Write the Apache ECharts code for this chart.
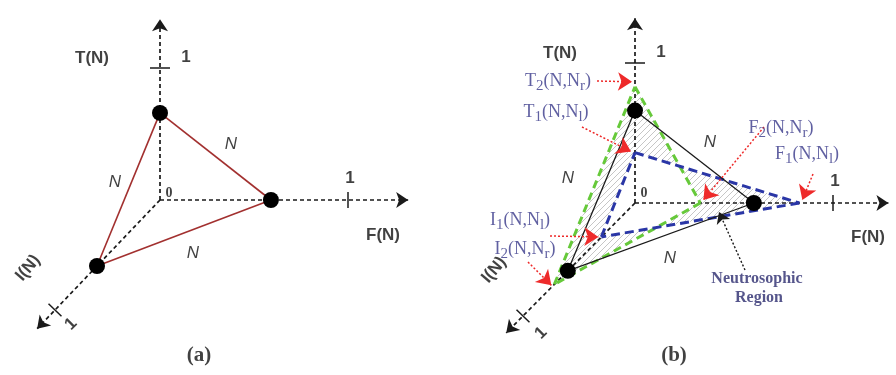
<!DOCTYPE html>
<html><head><meta charset="utf-8">
<script src="https://cdn.jsdelivr.net/npm/echarts@6/dist/echarts.min.js"></script>
<style>html,body{margin:0;padding:0;background:#fff}#c{width:896px;height:375px}</style>
</head><body><div id="c"></div>
<script>
// ================= DATA =================
const axisTitles = ['T(N)', 'F(N)', 'I(N)'];
const tickLabels = ['0', '1'];
const tickValue = 1;
const pointA = [0.66, 0.59, 0.60];   // [T, F, I] of N, panel (a)
const pointB = [0.66, 0.60, 0.60];   // [T, F, I] of N, panel (b)
const lowerB = [0.36, 0.83, 0.30];   // T1, F1, I1 : (N, N_l)
const upperB = [0.83, 0.33, 0.72];   // T2, F2, I2 : (N, N_r)
const edgeLabel = 'N';
const lowerNames = [['T', '1', 'l'], ['F', '1', 'l'], ['I', '1', 'l']];
const upperNames = [['T', '2', 'r'], ['F', '2', 'r'], ['I', '2', 'r']];
const regionLabel = ['Neutrosophic', 'Region'];
const captions = ['(a)', '(b)'];

// ================= LAYOUT =================
const panels = [
  {O: [160, 200], uT: [0, -132], uF: [188, 0], uI: [-105, 110], ext: [1.37, 1.32, 1.17]},
  {O: [635, 203], uT: [0, -140], uF: [198, 0], uI: [-112, 113], ext: [1.32, 1.28, 1.15]}
];
function proj(p, t, f, i) {
  return [p.O[0] + t * p.uT[0] + f * p.uF[0] + i * p.uI[0],
          p.O[1] + t * p.uT[1] + f * p.uF[1] + i * p.uI[1]];
}
const vT = (p, v) => proj(p, v, 0, 0);
const vF = (p, v) => proj(p, 0, v, 0);
const vI = (p, v) => proj(p, 0, 0, v);
const add = (a, b, s) => [a[0] + s * b[0], a[1] + s * b[1]];
const pa = panels[0], pb = panels[1];

const axisLines = [], tickLines = [];
panels.forEach(p => {
  axisLines.push([p.O, vT(p, p.ext[0])], [p.O, vF(p, p.ext[1])], [p.O, vI(p, p.ext[2])]);
  tickLines.push([add(vT(p, tickValue), [1, 0], -10), add(vT(p, tickValue), [1, 0], 10)]);
  tickLines.push([add(vF(p, tickValue), [0, 1], -8), add(vF(p, tickValue), [0, 1], 8)]);
  tickLines.push([add(vI(p, tickValue), [0.72, 0.69], -9), add(vI(p, tickValue), [0.72, 0.69], 9)]);
});
const triA = [vT(pa, pointA[0]), vF(pa, pointA[1]), vI(pa, pointA[2])];
const triB = [vT(pb, pointB[0]), vF(pb, pointB[1]), vI(pb, pointB[2])];
const triLow = [vT(pb, lowerB[0]), vF(pb, lowerB[1]), vI(pb, lowerB[2])];
const triUp = [vT(pb, upperB[0]), vF(pb, upperB[1]), vI(pb, upperB[2])];
const edges = tri => [[tri[0], tri[1]], [tri[1], tri[2]], [tri[2], tri[0]]];

// pointer arrows for bound labels: [from, to]
const redPointers = [
  [[597, 81], add(triUp[0], [-3, -5], 1)],
  [[582, 127], add(triLow[0], [-4, -1], 1)],
  [[764, 127], add(triUp[1], [3, -3], 1)],
  [[813, 174], add(triLow[1], [3, -3], 1)],
  [[550, 236], add(triLow[2], [-3, 0], 1)],
  [[528, 262], add(triUp[2], [-3, 1], 1)]
];
const blackPointers = [[[745, 270], [719, 212]]];

// hatch pattern
const hc = document.createElement('canvas');
hc.width = 6; hc.height = 6;
const hx = hc.getContext('2d');
hx.strokeStyle = '#c6c6c6'; hx.lineWidth = 1;
hx.beginPath();
hx.moveTo(0, 6); hx.lineTo(6, 0);
hx.moveTo(-3, 3); hx.lineTo(3, -3);
hx.moveTo(3, 9); hx.lineTo(9, 3);
hx.stroke();

// text labels
const sans = 'Liberation Sans, Arial, sans-serif';
const serif = 'Liberation Serif, Times New Roman, serif';
const navy = '#38388a';
const styles = {
  axis: {fontFamily: sans, fontWeight: 'bold', fontSize: 17, color: '#111'},
  zero: {fontFamily: serif, fontWeight: 'bold', fontSize: 14, color: '#111'},
  edge: {fontFamily: sans, fontStyle: 'italic', fontSize: 17, color: '#111'},
  cap: {fontFamily: serif, fontWeight: 'bold', fontSize: 21, color: '#111'},
  region: {fontFamily: serif, fontWeight: 'bold', fontSize: 16, color: '#2a2a6e'}
};
const texts = [
  {t: axisTitles[0], p: [92, 58], s: 'axis'},
  {t: tickLabels[1], p: [186, 57], s: 'axis'},
  {t: tickLabels[0], p: [169, 193], s: 'zero'},
  {t: tickLabels[1], p: [350, 178], s: 'axis'},
  {t: axisTitles[1], p: [383, 235], s: 'axis'},
  {t: axisTitles[2], p: [28, 268], s: 'axis', r: 50},
  {t: tickLabels[1], p: [71, 324], s: 'axis', r: 45},
  {t: edgeLabel, p: [231, 144], s: 'edge'},
  {t: edgeLabel, p: [115, 182], s: 'edge'},
  {t: edgeLabel, p: [193, 253], s: 'edge'},
  {t: captions[0], p: [199, 356], s: 'cap'},
  {t: axisTitles[0], p: [560, 53], s: 'axis'},
  {t: tickLabels[1], p: [661, 52], s: 'axis'},
  {t: tickLabels[0], p: [644, 193], s: 'zero'},
  {t: tickLabels[1], p: [835, 181], s: 'axis'},
  {t: axisTitles[1], p: [868, 237], s: 'axis'},
  {t: axisTitles[2], p: [494, 270], s: 'axis', r: 50},
  {t: tickLabels[1], p: [541, 333], s: 'axis', r: 45},
  {t: edgeLabel, p: [568, 178], s: 'edge'},
  {t: edgeLabel, p: [710, 142], s: 'edge'},
  {t: edgeLabel, p: [670, 258], s: 'edge'},
  {t: captions[1], p: [674, 356], s: 'cap'},
  {t: regionLabel[0], p: [757, 279], s: 'region'},
  {t: regionLabel[1], p: [759, 298], s: 'region'}
];
const boundTexts = [
  {n: upperNames[0], p: [558, 81]},
  {n: lowerNames[0], p: [556, 112]},
  {n: upperNames[1], p: [781, 128]},
  {n: lowerNames[1], p: [807, 154]},
  {n: lowerNames[2], p: [520, 220]},
  {n: upperNames[2], p: [525, 249]}
];
const boundRich = {
  a: {fontFamily: serif, fontSize: 18, color: navy},
  s: {fontFamily: serif, fontSize: 15, color: navy, padding: [11, 0, 0, 0]}
};

const labelData = texts.map(o => ({
  value: o.p,
  label: Object.assign({show: true, position: 'inside', formatter: o.t, rotate: o.r || 0}, styles[o.s])
})).concat(boundTexts.map(o => ({
  value: o.p,
  label: {show: true, position: 'inside', rich: boundRich,
    formatter: '{a|' + o.n[0] + '}{s|' + o.n[1] + '}{a|(N,N}{s|' + o.n[2] + '}{a|)}'}
})));

const linesSeries = (data, color, width, type, arrow, z, size) => ({
  type: 'lines', coordinateSystem: 'cartesian2d', silent: true, z: z,
  symbol: arrow ? ['none', 'arrow'] : ['none', 'none'], symbolSize: size || 12,
  lineStyle: {color: color, width: width, type: type, opacity: 1, curveness: 0},
  data: data.map(c => ({coords: c}))
});

const chart = echarts.init(document.getElementById('c'), null, {renderer: 'canvas'});
chart.setOption({
  animation: false,
  backgroundColor: '#fff',
  grid: {left: 0, right: 0, top: 0, bottom: 0},
  xAxis: {type: 'value', min: 0, max: 896, show: false},
  yAxis: {type: 'value', min: 0, max: 375, inverse: true, show: false},
  series: [
    {
      type: 'custom', silent: true, z: 1, data: [[0, 0]],
      renderItem: (params, api) => {
        const g = triUp.map(c => api.coord(c));
        const b = [triLow[0], triLow[2], triLow[1]].map(c => api.coord(c));
        const path = pts => 'M' + pts.map(q => q[0] + ' ' + q[1]).join(' L') + ' Z';
        return {type: 'path', shape: {pathData: path(g) + ' ' + path(b)},
                style: {fill: {image: hc, repeat: 'repeat'}, stroke: null}};
      }
    },
    linesSeries(axisLines, '#1a1a1a', 1.7, [4, 3], true, 3, 12),
    linesSeries(tickLines, '#1a1a1a', 1.5, 'solid', false, 3),
    linesSeries(edges(triA), '#a2302f', 1.6, 'solid', false, 4),
    linesSeries(edges(triUp), '#66c93a', 3, [8, 5], false, 4),
    linesSeries(edges(triLow), '#2a36a6', 3, [9, 5], false, 5),
    linesSeries(edges(triB), '#1a1a1a', 1.3, 'solid', false, 6),
    linesSeries(redPointers, '#ee2a2a', 1.5, [2, 2], true, 7, 14),
    linesSeries(blackPointers, '#1a1a1a', 1.4, [2, 2], true, 7, 11),
    {
      type: 'scatter', silent: true, z: 8, symbolSize: 16,
      itemStyle: {color: '#000', opacity: 1},
      data: triA.concat(triB)
    },
    {
      type: 'scatter', silent: true, z: 9, symbolSize: 1,
      itemStyle: {color: 'rgba(0,0,0,0)'},
      data: labelData
    }
  ]
});
</script></body></html>
